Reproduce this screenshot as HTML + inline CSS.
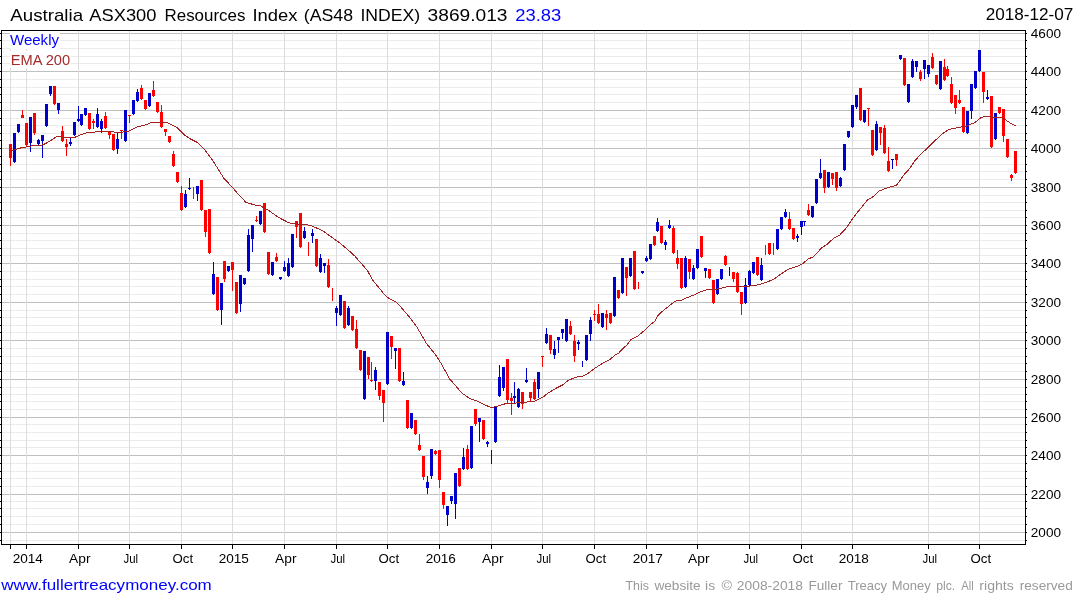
<!DOCTYPE html>
<html><head><meta charset="utf-8"><title>Chart</title>
<style>html,body{margin:0;padding:0;background:#fff;width:1075px;height:600px;overflow:hidden}</style>
</head><body>
<svg width="1075" height="600" viewBox="0 0 1075 600" style="display:block;position:absolute;left:0;top:0;will-change:transform">
<rect x="0" y="0" width="1075" height="600" fill="#fff"/>
<g shape-rendering="crispEdges">
<rect x="2" y="540" width="1023" height="1" fill="#ebebeb"/>
<rect x="2" y="532" width="1023" height="1" fill="#c0c0c0"/>
<rect x="2" y="524" width="1023" height="1" fill="#ebebeb"/>
<rect x="2" y="516" width="1023" height="1" fill="#ebebeb"/>
<rect x="2" y="508" width="1023" height="1" fill="#ebebeb"/>
<rect x="2" y="501" width="1023" height="1" fill="#ebebeb"/>
<rect x="2" y="494" width="1023" height="1" fill="#c0c0c0"/>
<rect x="2" y="486" width="1023" height="1" fill="#ebebeb"/>
<rect x="2" y="478" width="1023" height="1" fill="#ebebeb"/>
<rect x="2" y="471" width="1023" height="1" fill="#ebebeb"/>
<rect x="2" y="463" width="1023" height="1" fill="#ebebeb"/>
<rect x="2" y="455" width="1023" height="1" fill="#c0c0c0"/>
<rect x="2" y="447" width="1023" height="1" fill="#ebebeb"/>
<rect x="2" y="440" width="1023" height="1" fill="#ebebeb"/>
<rect x="2" y="432" width="1023" height="1" fill="#ebebeb"/>
<rect x="2" y="424" width="1023" height="1" fill="#ebebeb"/>
<rect x="2" y="417" width="1023" height="1" fill="#c0c0c0"/>
<rect x="2" y="409" width="1023" height="1" fill="#ebebeb"/>
<rect x="2" y="401" width="1023" height="1" fill="#ebebeb"/>
<rect x="2" y="394" width="1023" height="1" fill="#ebebeb"/>
<rect x="2" y="387" width="1023" height="1" fill="#ebebeb"/>
<rect x="2" y="379" width="1023" height="1" fill="#c0c0c0"/>
<rect x="2" y="371" width="1023" height="1" fill="#ebebeb"/>
<rect x="2" y="363" width="1023" height="1" fill="#ebebeb"/>
<rect x="2" y="356" width="1023" height="1" fill="#ebebeb"/>
<rect x="2" y="348" width="1023" height="1" fill="#ebebeb"/>
<rect x="2" y="340" width="1023" height="1" fill="#c0c0c0"/>
<rect x="2" y="332" width="1023" height="1" fill="#ebebeb"/>
<rect x="2" y="325" width="1023" height="1" fill="#ebebeb"/>
<rect x="2" y="317" width="1023" height="1" fill="#ebebeb"/>
<rect x="2" y="310" width="1023" height="1" fill="#ebebeb"/>
<rect x="2" y="302" width="1023" height="1" fill="#c0c0c0"/>
<rect x="2" y="294" width="1023" height="1" fill="#ebebeb"/>
<rect x="2" y="286" width="1023" height="1" fill="#ebebeb"/>
<rect x="2" y="279" width="1023" height="1" fill="#ebebeb"/>
<rect x="2" y="271" width="1023" height="1" fill="#ebebeb"/>
<rect x="2" y="263" width="1023" height="1" fill="#c0c0c0"/>
<rect x="2" y="255" width="1023" height="1" fill="#ebebeb"/>
<rect x="2" y="248" width="1023" height="1" fill="#ebebeb"/>
<rect x="2" y="240" width="1023" height="1" fill="#ebebeb"/>
<rect x="2" y="233" width="1023" height="1" fill="#ebebeb"/>
<rect x="2" y="225" width="1023" height="1" fill="#c0c0c0"/>
<rect x="2" y="217" width="1023" height="1" fill="#ebebeb"/>
<rect x="2" y="210" width="1023" height="1" fill="#ebebeb"/>
<rect x="2" y="202" width="1023" height="1" fill="#ebebeb"/>
<rect x="2" y="195" width="1023" height="1" fill="#ebebeb"/>
<rect x="2" y="187" width="1023" height="1" fill="#c0c0c0"/>
<rect x="2" y="179" width="1023" height="1" fill="#ebebeb"/>
<rect x="2" y="171" width="1023" height="1" fill="#ebebeb"/>
<rect x="2" y="164" width="1023" height="1" fill="#ebebeb"/>
<rect x="2" y="156" width="1023" height="1" fill="#ebebeb"/>
<rect x="2" y="148" width="1023" height="1" fill="#c0c0c0"/>
<rect x="2" y="140" width="1023" height="1" fill="#ebebeb"/>
<rect x="2" y="133" width="1023" height="1" fill="#ebebeb"/>
<rect x="2" y="125" width="1023" height="1" fill="#ebebeb"/>
<rect x="2" y="118" width="1023" height="1" fill="#ebebeb"/>
<rect x="2" y="110" width="1023" height="1" fill="#c0c0c0"/>
<rect x="2" y="102" width="1023" height="1" fill="#ebebeb"/>
<rect x="2" y="94" width="1023" height="1" fill="#ebebeb"/>
<rect x="2" y="87" width="1023" height="1" fill="#ebebeb"/>
<rect x="2" y="79" width="1023" height="1" fill="#ebebeb"/>
<rect x="2" y="71" width="1023" height="1" fill="#c0c0c0"/>
<rect x="2" y="63" width="1023" height="1" fill="#ebebeb"/>
<rect x="2" y="56" width="1023" height="1" fill="#ebebeb"/>
<rect x="2" y="48" width="1023" height="1" fill="#ebebeb"/>
<rect x="2" y="40" width="1023" height="1" fill="#ebebeb"/>
<rect x="2" y="33" width="1023" height="1" fill="#c0c0c0"/>
<rect x="10" y="31" width="1" height="513" fill="#dcdcdc"/>
<rect x="26" y="31" width="1" height="513" fill="#dcdcdc"/>
<rect x="78" y="31" width="1" height="513" fill="#dcdcdc"/>
<rect x="129" y="31" width="1" height="513" fill="#dcdcdc"/>
<rect x="181" y="31" width="1" height="513" fill="#dcdcdc"/>
<rect x="232" y="31" width="1" height="513" fill="#dcdcdc"/>
<rect x="284" y="31" width="1" height="513" fill="#dcdcdc"/>
<rect x="336" y="31" width="1" height="513" fill="#dcdcdc"/>
<rect x="387" y="31" width="1" height="513" fill="#dcdcdc"/>
<rect x="439" y="31" width="1" height="513" fill="#dcdcdc"/>
<rect x="491" y="31" width="1" height="513" fill="#dcdcdc"/>
<rect x="542" y="31" width="1" height="513" fill="#dcdcdc"/>
<rect x="594" y="31" width="1" height="513" fill="#dcdcdc"/>
<rect x="646" y="31" width="1" height="513" fill="#dcdcdc"/>
<rect x="697" y="31" width="1" height="513" fill="#dcdcdc"/>
<rect x="749" y="31" width="1" height="513" fill="#dcdcdc"/>
<rect x="801" y="31" width="1" height="513" fill="#dcdcdc"/>
<rect x="852" y="31" width="1" height="513" fill="#dcdcdc"/>
<rect x="928" y="31" width="1" height="513" fill="#dcdcdc"/>
<rect x="979" y="31" width="1" height="513" fill="#dcdcdc"/>
</g>
<rect x="10" y="31" width="50" height="18" fill="#fff"/>
<rect x="10" y="51" width="61" height="17" fill="#fff"/>
<g shape-rendering="crispEdges">
<rect x="10" y="144" width="1" height="22" fill="#ff0000"/>
<rect x="9" y="144" width="3" height="14" fill="#ff0000"/>
<rect x="14" y="133" width="1" height="30" fill="#0000cc"/>
<rect x="13" y="133" width="3" height="29" fill="#0000cc"/>
<rect x="18" y="124" width="1" height="9" fill="#0000cc"/>
<rect x="17" y="124" width="3" height="8" fill="#0000cc"/>
<rect x="22" y="110" width="1" height="8" fill="#ff0000"/>
<rect x="21" y="115" width="3" height="3" fill="#ff0000"/>
<rect x="26" y="123" width="1" height="23" fill="#ff0000"/>
<rect x="25" y="123" width="3" height="22" fill="#ff0000"/>
<rect x="30" y="117" width="1" height="35" fill="#0000cc"/>
<rect x="29" y="117" width="3" height="26" fill="#0000cc"/>
<rect x="34" y="113" width="1" height="22" fill="#ff0000"/>
<rect x="33" y="113" width="3" height="20" fill="#ff0000"/>
<rect x="38" y="139" width="1" height="6" fill="#0000cc"/>
<rect x="37" y="140" width="3" height="4" fill="#0000cc"/>
<rect x="42" y="135" width="1" height="23" fill="#0000cc"/>
<rect x="41" y="135" width="3" height="6" fill="#0000cc"/>
<rect x="46" y="104" width="1" height="23" fill="#0000cc"/>
<rect x="45" y="104" width="3" height="22" fill="#0000cc"/>
<rect x="50" y="86" width="1" height="10" fill="#0000cc"/>
<rect x="49" y="86" width="3" height="8" fill="#0000cc"/>
<rect x="54" y="86" width="1" height="19" fill="#ff0000"/>
<rect x="53" y="86" width="3" height="18" fill="#ff0000"/>
<rect x="58" y="103" width="1" height="11" fill="#0000cc"/>
<rect x="57" y="103" width="3" height="7" fill="#0000cc"/>
<rect x="62" y="126" width="1" height="16" fill="#ff0000"/>
<rect x="61" y="131" width="3" height="10" fill="#ff0000"/>
<rect x="66" y="139" width="1" height="17" fill="#ff0000"/>
<rect x="65" y="144" width="3" height="3" fill="#ff0000"/>
<rect x="70" y="138" width="1" height="8" fill="#0000cc"/>
<rect x="69" y="142" width="3" height="2" fill="#0000cc"/>
<rect x="74" y="122" width="1" height="14" fill="#0000cc"/>
<rect x="73" y="122" width="3" height="13" fill="#0000cc"/>
<rect x="78" y="106" width="1" height="16" fill="#0000cc"/>
<rect x="77" y="119" width="3" height="2" fill="#0000cc"/>
<rect x="81" y="114" width="1" height="12" fill="#0000cc"/>
<rect x="80" y="114" width="3" height="11" fill="#0000cc"/>
<rect x="85" y="108" width="1" height="8" fill="#0000cc"/>
<rect x="84" y="108" width="3" height="7" fill="#0000cc"/>
<rect x="89" y="113" width="1" height="17" fill="#ff0000"/>
<rect x="88" y="113" width="3" height="16" fill="#ff0000"/>
<rect x="93" y="119" width="1" height="10" fill="#ff0000"/>
<rect x="92" y="121" width="3" height="2" fill="#ff0000"/>
<rect x="97" y="108" width="1" height="20" fill="#0000cc"/>
<rect x="96" y="114" width="3" height="13" fill="#0000cc"/>
<rect x="101" y="119" width="1" height="14" fill="#0000cc"/>
<rect x="100" y="121" width="3" height="8" fill="#0000cc"/>
<rect x="105" y="112" width="1" height="17" fill="#ff0000"/>
<rect x="104" y="116" width="3" height="12" fill="#ff0000"/>
<rect x="109" y="132" width="1" height="7" fill="#ff0000"/>
<rect x="108" y="132" width="3" height="3" fill="#ff0000"/>
<rect x="113" y="134" width="1" height="17" fill="#ff0000"/>
<rect x="112" y="134" width="3" height="16" fill="#ff0000"/>
<rect x="117" y="133" width="1" height="21" fill="#0000cc"/>
<rect x="116" y="139" width="3" height="10" fill="#0000cc"/>
<rect x="121" y="130" width="1" height="9" fill="#ff0000"/>
<rect x="120" y="130" width="3" height="1" fill="#ff0000"/>
<rect x="125" y="110" width="1" height="32" fill="#0000cc"/>
<rect x="124" y="110" width="3" height="31" fill="#0000cc"/>
<rect x="129" y="115" width="1" height="8" fill="#ff0000"/>
<rect x="128" y="115" width="3" height="1" fill="#ff0000"/>
<rect x="133" y="100" width="1" height="15" fill="#0000cc"/>
<rect x="132" y="100" width="3" height="14" fill="#0000cc"/>
<rect x="137" y="89" width="1" height="13" fill="#0000cc"/>
<rect x="136" y="92" width="3" height="9" fill="#0000cc"/>
<rect x="141" y="85" width="1" height="15" fill="#ff0000"/>
<rect x="140" y="88" width="3" height="11" fill="#ff0000"/>
<rect x="145" y="100" width="1" height="10" fill="#ff0000"/>
<rect x="144" y="100" width="3" height="9" fill="#ff0000"/>
<rect x="149" y="93" width="1" height="14" fill="#0000cc"/>
<rect x="148" y="93" width="3" height="13" fill="#0000cc"/>
<rect x="153" y="81" width="1" height="16" fill="#ff0000"/>
<rect x="152" y="90" width="3" height="6" fill="#ff0000"/>
<rect x="157" y="102" width="1" height="11" fill="#ff0000"/>
<rect x="156" y="102" width="3" height="10" fill="#ff0000"/>
<rect x="161" y="105" width="1" height="23" fill="#ff0000"/>
<rect x="160" y="112" width="3" height="15" fill="#ff0000"/>
<rect x="165" y="129" width="1" height="7" fill="#ff0000"/>
<rect x="164" y="129" width="3" height="3" fill="#ff0000"/>
<rect x="169" y="136" width="1" height="7" fill="#ff0000"/>
<rect x="168" y="136" width="3" height="6" fill="#ff0000"/>
<rect x="173" y="151" width="1" height="16" fill="#ff0000"/>
<rect x="172" y="154" width="3" height="12" fill="#ff0000"/>
<rect x="177" y="172" width="1" height="11" fill="#ff0000"/>
<rect x="176" y="172" width="3" height="10" fill="#ff0000"/>
<rect x="181" y="186" width="1" height="25" fill="#ff0000"/>
<rect x="180" y="193" width="3" height="17" fill="#ff0000"/>
<rect x="185" y="190" width="1" height="18" fill="#0000cc"/>
<rect x="184" y="194" width="3" height="13" fill="#0000cc"/>
<rect x="189" y="178" width="1" height="12" fill="#0000cc"/>
<rect x="188" y="188" width="3" height="1" fill="#0000cc"/>
<rect x="193" y="187" width="1" height="12" fill="#ff0000"/>
<rect x="197" y="186" width="1" height="15" fill="#0000cc"/>
<rect x="196" y="186" width="3" height="8" fill="#0000cc"/>
<rect x="201" y="180" width="1" height="31" fill="#ff0000"/>
<rect x="200" y="180" width="3" height="30" fill="#ff0000"/>
<rect x="205" y="210" width="1" height="27" fill="#ff0000"/>
<rect x="204" y="210" width="3" height="22" fill="#ff0000"/>
<rect x="209" y="209" width="1" height="45" fill="#ff0000"/>
<rect x="208" y="209" width="3" height="44" fill="#ff0000"/>
<rect x="213" y="262" width="1" height="33" fill="#0000cc"/>
<rect x="212" y="274" width="3" height="20" fill="#0000cc"/>
<rect x="217" y="277" width="1" height="34" fill="#ff0000"/>
<rect x="216" y="277" width="3" height="33" fill="#ff0000"/>
<rect x="221" y="283" width="1" height="42" fill="#0000cc"/>
<rect x="220" y="283" width="3" height="27" fill="#0000cc"/>
<rect x="224" y="261" width="1" height="21" fill="#ff0000"/>
<rect x="223" y="261" width="3" height="18" fill="#ff0000"/>
<rect x="228" y="266" width="1" height="6" fill="#0000cc"/>
<rect x="227" y="266" width="3" height="5" fill="#0000cc"/>
<rect x="232" y="262" width="1" height="29" fill="#ff0000"/>
<rect x="231" y="262" width="3" height="8" fill="#ff0000"/>
<rect x="236" y="282" width="1" height="32" fill="#ff0000"/>
<rect x="235" y="282" width="3" height="31" fill="#ff0000"/>
<rect x="240" y="275" width="1" height="37" fill="#0000cc"/>
<rect x="239" y="275" width="3" height="29" fill="#0000cc"/>
<rect x="244" y="278" width="1" height="7" fill="#0000cc"/>
<rect x="243" y="278" width="3" height="6" fill="#0000cc"/>
<rect x="248" y="229" width="1" height="43" fill="#0000cc"/>
<rect x="247" y="235" width="3" height="36" fill="#0000cc"/>
<rect x="252" y="225" width="1" height="27" fill="#0000cc"/>
<rect x="251" y="225" width="3" height="14" fill="#0000cc"/>
<rect x="256" y="216" width="1" height="6" fill="#ff0000"/>
<rect x="255" y="220" width="3" height="1" fill="#ff0000"/>
<rect x="260" y="211" width="1" height="14" fill="#0000cc"/>
<rect x="259" y="211" width="3" height="13" fill="#0000cc"/>
<rect x="264" y="203" width="1" height="30" fill="#ff0000"/>
<rect x="263" y="203" width="3" height="29" fill="#ff0000"/>
<rect x="268" y="252" width="1" height="23" fill="#ff0000"/>
<rect x="267" y="252" width="3" height="22" fill="#ff0000"/>
<rect x="272" y="262" width="1" height="14" fill="#0000cc"/>
<rect x="271" y="262" width="3" height="13" fill="#0000cc"/>
<rect x="276" y="253" width="1" height="9" fill="#ff0000"/>
<rect x="275" y="257" width="3" height="4" fill="#ff0000"/>
<rect x="280" y="277" width="1" height="3" fill="#0000cc"/>
<rect x="279" y="277" width="3" height="2" fill="#0000cc"/>
<rect x="284" y="261" width="1" height="11" fill="#0000cc"/>
<rect x="283" y="267" width="3" height="4" fill="#0000cc"/>
<rect x="288" y="258" width="1" height="19" fill="#0000cc"/>
<rect x="287" y="263" width="3" height="13" fill="#0000cc"/>
<rect x="292" y="234" width="1" height="34" fill="#0000cc"/>
<rect x="291" y="234" width="3" height="33" fill="#0000cc"/>
<rect x="296" y="221" width="1" height="17" fill="#ff0000"/>
<rect x="295" y="221" width="3" height="6" fill="#ff0000"/>
<rect x="300" y="213" width="1" height="35" fill="#ff0000"/>
<rect x="299" y="213" width="3" height="34" fill="#ff0000"/>
<rect x="304" y="227" width="1" height="12" fill="#0000cc"/>
<rect x="303" y="231" width="3" height="7" fill="#0000cc"/>
<rect x="308" y="242" width="1" height="14" fill="#ff0000"/>
<rect x="312" y="229" width="1" height="14" fill="#0000cc"/>
<rect x="311" y="233" width="3" height="3" fill="#0000cc"/>
<rect x="316" y="239" width="1" height="28" fill="#ff0000"/>
<rect x="315" y="239" width="3" height="27" fill="#ff0000"/>
<rect x="320" y="254" width="1" height="19" fill="#0000cc"/>
<rect x="319" y="258" width="3" height="14" fill="#0000cc"/>
<rect x="324" y="263" width="1" height="10" fill="#0000cc"/>
<rect x="323" y="263" width="3" height="3" fill="#0000cc"/>
<rect x="328" y="259" width="1" height="29" fill="#ff0000"/>
<rect x="327" y="265" width="3" height="22" fill="#ff0000"/>
<rect x="332" y="288" width="1" height="13" fill="#ff0000"/>
<rect x="336" y="306" width="1" height="20" fill="#0000cc"/>
<rect x="335" y="308" width="3" height="5" fill="#0000cc"/>
<rect x="340" y="295" width="1" height="21" fill="#0000cc"/>
<rect x="339" y="295" width="3" height="20" fill="#0000cc"/>
<rect x="344" y="301" width="1" height="28" fill="#ff0000"/>
<rect x="343" y="301" width="3" height="27" fill="#ff0000"/>
<rect x="348" y="306" width="1" height="20" fill="#0000cc"/>
<rect x="347" y="308" width="3" height="17" fill="#0000cc"/>
<rect x="352" y="316" width="1" height="15" fill="#ff0000"/>
<rect x="351" y="316" width="3" height="14" fill="#ff0000"/>
<rect x="356" y="320" width="1" height="29" fill="#ff0000"/>
<rect x="355" y="329" width="3" height="19" fill="#ff0000"/>
<rect x="360" y="350" width="1" height="21" fill="#ff0000"/>
<rect x="359" y="350" width="3" height="20" fill="#ff0000"/>
<rect x="364" y="351" width="1" height="49" fill="#0000cc"/>
<rect x="363" y="351" width="3" height="48" fill="#0000cc"/>
<rect x="368" y="357" width="1" height="22" fill="#ff0000"/>
<rect x="367" y="357" width="3" height="18" fill="#ff0000"/>
<rect x="371" y="362" width="1" height="20" fill="#ff0000"/>
<rect x="370" y="380" width="3" height="1" fill="#ff0000"/>
<rect x="375" y="367" width="1" height="23" fill="#0000cc"/>
<rect x="374" y="370" width="3" height="11" fill="#0000cc"/>
<rect x="379" y="382" width="1" height="18" fill="#ff0000"/>
<rect x="378" y="382" width="3" height="14" fill="#ff0000"/>
<rect x="383" y="390" width="1" height="32" fill="#ff0000"/>
<rect x="382" y="390" width="3" height="13" fill="#ff0000"/>
<rect x="387" y="332" width="1" height="53" fill="#0000cc"/>
<rect x="386" y="332" width="3" height="52" fill="#0000cc"/>
<rect x="391" y="336" width="1" height="23" fill="#ff0000"/>
<rect x="390" y="336" width="3" height="11" fill="#ff0000"/>
<rect x="395" y="348" width="1" height="21" fill="#0000cc"/>
<rect x="394" y="348" width="3" height="3" fill="#0000cc"/>
<rect x="399" y="348" width="1" height="34" fill="#ff0000"/>
<rect x="398" y="348" width="3" height="33" fill="#ff0000"/>
<rect x="403" y="372" width="1" height="14" fill="#0000cc"/>
<rect x="402" y="381" width="3" height="4" fill="#0000cc"/>
<rect x="407" y="400" width="1" height="29" fill="#ff0000"/>
<rect x="406" y="400" width="3" height="28" fill="#ff0000"/>
<rect x="411" y="413" width="1" height="16" fill="#0000cc"/>
<rect x="410" y="413" width="3" height="15" fill="#0000cc"/>
<rect x="415" y="420" width="1" height="15" fill="#ff0000"/>
<rect x="414" y="420" width="3" height="14" fill="#ff0000"/>
<rect x="419" y="434" width="1" height="17" fill="#ff0000"/>
<rect x="418" y="445" width="3" height="5" fill="#ff0000"/>
<rect x="423" y="456" width="1" height="24" fill="#ff0000"/>
<rect x="422" y="456" width="3" height="21" fill="#ff0000"/>
<rect x="427" y="476" width="1" height="18" fill="#0000cc"/>
<rect x="426" y="482" width="3" height="6" fill="#0000cc"/>
<rect x="431" y="449" width="1" height="30" fill="#0000cc"/>
<rect x="430" y="449" width="3" height="27" fill="#0000cc"/>
<rect x="435" y="450" width="1" height="5" fill="#ff0000"/>
<rect x="434" y="451" width="3" height="3" fill="#ff0000"/>
<rect x="439" y="450" width="1" height="38" fill="#ff0000"/>
<rect x="438" y="450" width="3" height="30" fill="#ff0000"/>
<rect x="443" y="492" width="1" height="17" fill="#ff0000"/>
<rect x="442" y="492" width="3" height="13" fill="#ff0000"/>
<rect x="447" y="506" width="1" height="20" fill="#0000cc"/>
<rect x="446" y="506" width="3" height="9" fill="#0000cc"/>
<rect x="451" y="496" width="1" height="8" fill="#0000cc"/>
<rect x="450" y="496" width="3" height="5" fill="#0000cc"/>
<rect x="455" y="473" width="1" height="46" fill="#0000cc"/>
<rect x="454" y="473" width="3" height="31" fill="#0000cc"/>
<rect x="459" y="468" width="1" height="19" fill="#ff0000"/>
<rect x="458" y="468" width="3" height="18" fill="#ff0000"/>
<rect x="463" y="448" width="1" height="22" fill="#0000cc"/>
<rect x="462" y="457" width="3" height="12" fill="#0000cc"/>
<rect x="467" y="445" width="1" height="25" fill="#ff0000"/>
<rect x="466" y="449" width="3" height="20" fill="#ff0000"/>
<rect x="471" y="426" width="1" height="43" fill="#0000cc"/>
<rect x="470" y="426" width="3" height="42" fill="#0000cc"/>
<rect x="475" y="409" width="1" height="17" fill="#ff0000"/>
<rect x="474" y="409" width="3" height="15" fill="#ff0000"/>
<rect x="479" y="418" width="1" height="24" fill="#0000cc"/>
<rect x="478" y="418" width="3" height="4" fill="#0000cc"/>
<rect x="483" y="420" width="1" height="20" fill="#ff0000"/>
<rect x="482" y="420" width="3" height="19" fill="#ff0000"/>
<rect x="487" y="441" width="1" height="6" fill="#0000cc"/>
<rect x="486" y="442" width="3" height="2" fill="#0000cc"/>
<rect x="491" y="450" width="1" height="14" fill="#0000cc"/>
<rect x="495" y="406" width="1" height="37" fill="#0000cc"/>
<rect x="494" y="406" width="3" height="36" fill="#0000cc"/>
<rect x="499" y="365" width="1" height="32" fill="#0000cc"/>
<rect x="498" y="377" width="3" height="19" fill="#0000cc"/>
<rect x="503" y="367" width="1" height="24" fill="#0000cc"/>
<rect x="502" y="367" width="3" height="21" fill="#0000cc"/>
<rect x="507" y="359" width="1" height="44" fill="#ff0000"/>
<rect x="506" y="359" width="3" height="41" fill="#ff0000"/>
<rect x="511" y="393" width="1" height="22" fill="#ff0000"/>
<rect x="510" y="398" width="3" height="3" fill="#ff0000"/>
<rect x="514" y="382" width="1" height="21" fill="#0000cc"/>
<rect x="513" y="396" width="3" height="2" fill="#0000cc"/>
<rect x="518" y="388" width="1" height="20" fill="#0000cc"/>
<rect x="517" y="389" width="3" height="18" fill="#0000cc"/>
<rect x="522" y="392" width="1" height="17" fill="#ff0000"/>
<rect x="521" y="392" width="3" height="12" fill="#ff0000"/>
<rect x="526" y="368" width="1" height="15" fill="#0000cc"/>
<rect x="525" y="380" width="3" height="2" fill="#0000cc"/>
<rect x="530" y="392" width="1" height="9" fill="#ff0000"/>
<rect x="529" y="392" width="3" height="6" fill="#ff0000"/>
<rect x="534" y="379" width="1" height="21" fill="#ff0000"/>
<rect x="533" y="382" width="3" height="17" fill="#ff0000"/>
<rect x="538" y="372" width="1" height="26" fill="#0000cc"/>
<rect x="537" y="372" width="3" height="17" fill="#0000cc"/>
<rect x="542" y="356" width="1" height="11" fill="#ff0000"/>
<rect x="541" y="356" width="3" height="1" fill="#ff0000"/>
<rect x="546" y="328" width="1" height="16" fill="#0000cc"/>
<rect x="545" y="334" width="3" height="9" fill="#0000cc"/>
<rect x="550" y="335" width="1" height="19" fill="#ff0000"/>
<rect x="549" y="335" width="3" height="15" fill="#ff0000"/>
<rect x="554" y="341" width="1" height="18" fill="#0000cc"/>
<rect x="553" y="349" width="3" height="6" fill="#0000cc"/>
<rect x="558" y="337" width="1" height="16" fill="#0000cc"/>
<rect x="557" y="337" width="3" height="3" fill="#0000cc"/>
<rect x="562" y="329" width="1" height="10" fill="#0000cc"/>
<rect x="561" y="329" width="3" height="4" fill="#0000cc"/>
<rect x="566" y="319" width="1" height="23" fill="#0000cc"/>
<rect x="565" y="319" width="3" height="22" fill="#0000cc"/>
<rect x="570" y="321" width="1" height="14" fill="#ff0000"/>
<rect x="569" y="326" width="3" height="8" fill="#ff0000"/>
<rect x="574" y="335" width="1" height="27" fill="#ff0000"/>
<rect x="573" y="341" width="3" height="15" fill="#ff0000"/>
<rect x="578" y="340" width="1" height="10" fill="#0000cc"/>
<rect x="577" y="342" width="3" height="2" fill="#0000cc"/>
<rect x="582" y="361" width="1" height="6" fill="#0000cc"/>
<rect x="586" y="335" width="1" height="26" fill="#0000cc"/>
<rect x="585" y="335" width="3" height="25" fill="#0000cc"/>
<rect x="590" y="317" width="1" height="24" fill="#0000cc"/>
<rect x="589" y="320" width="3" height="14" fill="#0000cc"/>
<rect x="594" y="310" width="1" height="11" fill="#ff0000"/>
<rect x="593" y="314" width="3" height="1" fill="#ff0000"/>
<rect x="598" y="304" width="1" height="20" fill="#ff0000"/>
<rect x="597" y="314" width="3" height="9" fill="#ff0000"/>
<rect x="602" y="313" width="1" height="15" fill="#0000cc"/>
<rect x="601" y="313" width="3" height="14" fill="#0000cc"/>
<rect x="606" y="310" width="1" height="20" fill="#ff0000"/>
<rect x="605" y="314" width="3" height="4" fill="#ff0000"/>
<rect x="610" y="313" width="1" height="11" fill="#ff0000"/>
<rect x="609" y="313" width="3" height="10" fill="#ff0000"/>
<rect x="614" y="277" width="1" height="40" fill="#0000cc"/>
<rect x="613" y="277" width="3" height="39" fill="#0000cc"/>
<rect x="618" y="290" width="1" height="9" fill="#ff0000"/>
<rect x="617" y="290" width="3" height="8" fill="#ff0000"/>
<rect x="622" y="258" width="1" height="36" fill="#0000cc"/>
<rect x="621" y="258" width="3" height="35" fill="#0000cc"/>
<rect x="626" y="267" width="1" height="29" fill="#ff0000"/>
<rect x="625" y="267" width="3" height="11" fill="#ff0000"/>
<rect x="630" y="258" width="1" height="19" fill="#0000cc"/>
<rect x="629" y="258" width="3" height="18" fill="#0000cc"/>
<rect x="634" y="251" width="1" height="39" fill="#ff0000"/>
<rect x="633" y="251" width="3" height="38" fill="#ff0000"/>
<rect x="638" y="282" width="1" height="7" fill="#ff0000"/>
<rect x="642" y="271" width="1" height="3" fill="#0000cc"/>
<rect x="641" y="271" width="3" height="2" fill="#0000cc"/>
<rect x="646" y="256" width="1" height="6" fill="#0000cc"/>
<rect x="645" y="258" width="3" height="3" fill="#0000cc"/>
<rect x="650" y="244" width="1" height="16" fill="#0000cc"/>
<rect x="649" y="244" width="3" height="15" fill="#0000cc"/>
<rect x="654" y="236" width="1" height="10" fill="#ff0000"/>
<rect x="653" y="236" width="3" height="9" fill="#ff0000"/>
<rect x="657" y="218" width="1" height="14" fill="#0000cc"/>
<rect x="656" y="222" width="3" height="9" fill="#0000cc"/>
<rect x="661" y="226" width="1" height="18" fill="#ff0000"/>
<rect x="660" y="226" width="3" height="17" fill="#ff0000"/>
<rect x="665" y="240" width="1" height="10" fill="#0000cc"/>
<rect x="664" y="242" width="3" height="3" fill="#0000cc"/>
<rect x="669" y="220" width="1" height="9" fill="#0000cc"/>
<rect x="668" y="225" width="3" height="3" fill="#0000cc"/>
<rect x="673" y="226" width="1" height="28" fill="#ff0000"/>
<rect x="672" y="228" width="3" height="25" fill="#ff0000"/>
<rect x="677" y="250" width="1" height="19" fill="#ff0000"/>
<rect x="676" y="258" width="3" height="6" fill="#ff0000"/>
<rect x="681" y="258" width="1" height="31" fill="#ff0000"/>
<rect x="680" y="258" width="3" height="30" fill="#ff0000"/>
<rect x="685" y="256" width="1" height="32" fill="#0000cc"/>
<rect x="684" y="258" width="3" height="29" fill="#0000cc"/>
<rect x="689" y="259" width="1" height="20" fill="#ff0000"/>
<rect x="688" y="259" width="3" height="13" fill="#ff0000"/>
<rect x="693" y="265" width="1" height="15" fill="#0000cc"/>
<rect x="692" y="268" width="3" height="11" fill="#0000cc"/>
<rect x="697" y="249" width="1" height="20" fill="#0000cc"/>
<rect x="696" y="249" width="3" height="19" fill="#0000cc"/>
<rect x="701" y="236" width="1" height="22" fill="#ff0000"/>
<rect x="700" y="236" width="3" height="21" fill="#ff0000"/>
<rect x="705" y="268" width="1" height="10" fill="#0000cc"/>
<rect x="704" y="268" width="3" height="3" fill="#0000cc"/>
<rect x="709" y="269" width="1" height="10" fill="#ff0000"/>
<rect x="708" y="269" width="3" height="9" fill="#ff0000"/>
<rect x="713" y="280" width="1" height="24" fill="#ff0000"/>
<rect x="712" y="280" width="3" height="23" fill="#ff0000"/>
<rect x="717" y="279" width="1" height="16" fill="#0000cc"/>
<rect x="716" y="279" width="3" height="15" fill="#0000cc"/>
<rect x="721" y="269" width="1" height="11" fill="#0000cc"/>
<rect x="720" y="269" width="3" height="10" fill="#0000cc"/>
<rect x="725" y="255" width="1" height="11" fill="#ff0000"/>
<rect x="724" y="256" width="3" height="9" fill="#ff0000"/>
<rect x="729" y="267" width="1" height="9" fill="#0000cc"/>
<rect x="733" y="272" width="1" height="10" fill="#ff0000"/>
<rect x="732" y="272" width="3" height="7" fill="#ff0000"/>
<rect x="737" y="272" width="1" height="21" fill="#ff0000"/>
<rect x="736" y="273" width="3" height="19" fill="#ff0000"/>
<rect x="741" y="292" width="1" height="23" fill="#ff0000"/>
<rect x="740" y="292" width="3" height="12" fill="#ff0000"/>
<rect x="745" y="278" width="1" height="26" fill="#0000cc"/>
<rect x="744" y="285" width="3" height="18" fill="#0000cc"/>
<rect x="749" y="270" width="1" height="16" fill="#0000cc"/>
<rect x="748" y="271" width="3" height="14" fill="#0000cc"/>
<rect x="753" y="262" width="1" height="12" fill="#0000cc"/>
<rect x="752" y="262" width="3" height="11" fill="#0000cc"/>
<rect x="757" y="257" width="1" height="19" fill="#ff0000"/>
<rect x="756" y="257" width="3" height="18" fill="#ff0000"/>
<rect x="761" y="258" width="1" height="23" fill="#0000cc"/>
<rect x="760" y="265" width="3" height="15" fill="#0000cc"/>
<rect x="765" y="245" width="1" height="10" fill="#ff0000"/>
<rect x="769" y="243" width="1" height="12" fill="#ff0000"/>
<rect x="768" y="243" width="3" height="11" fill="#ff0000"/>
<rect x="773" y="243" width="1" height="12" fill="#ff0000"/>
<rect x="777" y="229" width="1" height="21" fill="#0000cc"/>
<rect x="776" y="229" width="3" height="20" fill="#0000cc"/>
<rect x="781" y="217" width="1" height="13" fill="#0000cc"/>
<rect x="780" y="217" width="3" height="12" fill="#0000cc"/>
<rect x="785" y="209" width="1" height="9" fill="#0000cc"/>
<rect x="784" y="212" width="3" height="5" fill="#0000cc"/>
<rect x="789" y="212" width="1" height="18" fill="#ff0000"/>
<rect x="788" y="219" width="3" height="10" fill="#ff0000"/>
<rect x="793" y="228" width="1" height="12" fill="#ff0000"/>
<rect x="792" y="228" width="3" height="11" fill="#ff0000"/>
<rect x="797" y="234" width="1" height="8" fill="#0000cc"/>
<rect x="796" y="236" width="3" height="2" fill="#0000cc"/>
<rect x="801" y="221" width="1" height="14" fill="#0000cc"/>
<rect x="800" y="221" width="3" height="6" fill="#0000cc"/>
<rect x="804" y="221" width="1" height="5" fill="#0000cc"/>
<rect x="803" y="221" width="3" height="1" fill="#0000cc"/>
<rect x="808" y="204" width="1" height="12" fill="#ff0000"/>
<rect x="807" y="210" width="3" height="5" fill="#ff0000"/>
<rect x="812" y="206" width="1" height="12" fill="#0000cc"/>
<rect x="811" y="206" width="3" height="11" fill="#0000cc"/>
<rect x="816" y="179" width="1" height="25" fill="#0000cc"/>
<rect x="815" y="179" width="3" height="24" fill="#0000cc"/>
<rect x="820" y="159" width="1" height="20" fill="#0000cc"/>
<rect x="819" y="173" width="3" height="5" fill="#0000cc"/>
<rect x="824" y="170" width="1" height="23" fill="#ff0000"/>
<rect x="823" y="170" width="3" height="18" fill="#ff0000"/>
<rect x="828" y="172" width="1" height="16" fill="#0000cc"/>
<rect x="827" y="172" width="3" height="15" fill="#0000cc"/>
<rect x="832" y="173" width="1" height="12" fill="#ff0000"/>
<rect x="831" y="173" width="3" height="6" fill="#ff0000"/>
<rect x="836" y="172" width="1" height="19" fill="#ff0000"/>
<rect x="835" y="172" width="3" height="16" fill="#ff0000"/>
<rect x="840" y="177" width="1" height="10" fill="#0000cc"/>
<rect x="839" y="178" width="3" height="8" fill="#0000cc"/>
<rect x="844" y="144" width="1" height="27" fill="#0000cc"/>
<rect x="843" y="144" width="3" height="26" fill="#0000cc"/>
<rect x="848" y="131" width="1" height="7" fill="#0000cc"/>
<rect x="847" y="131" width="3" height="6" fill="#0000cc"/>
<rect x="852" y="105" width="1" height="23" fill="#0000cc"/>
<rect x="851" y="105" width="3" height="22" fill="#0000cc"/>
<rect x="856" y="95" width="1" height="14" fill="#0000cc"/>
<rect x="855" y="95" width="3" height="12" fill="#0000cc"/>
<rect x="860" y="88" width="1" height="33" fill="#ff0000"/>
<rect x="859" y="88" width="3" height="32" fill="#ff0000"/>
<rect x="864" y="110" width="1" height="13" fill="#0000cc"/>
<rect x="863" y="110" width="3" height="12" fill="#0000cc"/>
<rect x="868" y="108" width="1" height="18" fill="#ff0000"/>
<rect x="867" y="108" width="3" height="1" fill="#ff0000"/>
<rect x="872" y="130" width="1" height="26" fill="#ff0000"/>
<rect x="871" y="130" width="3" height="25" fill="#ff0000"/>
<rect x="876" y="121" width="1" height="30" fill="#0000cc"/>
<rect x="875" y="124" width="3" height="26" fill="#0000cc"/>
<rect x="880" y="127" width="1" height="18" fill="#ff0000"/>
<rect x="879" y="127" width="3" height="6" fill="#ff0000"/>
<rect x="884" y="125" width="1" height="29" fill="#ff0000"/>
<rect x="883" y="128" width="3" height="25" fill="#ff0000"/>
<rect x="888" y="147" width="1" height="25" fill="#ff0000"/>
<rect x="887" y="161" width="3" height="10" fill="#ff0000"/>
<rect x="892" y="159" width="1" height="10" fill="#0000cc"/>
<rect x="891" y="159" width="3" height="1" fill="#0000cc"/>
<rect x="896" y="154" width="1" height="12" fill="#ff0000"/>
<rect x="895" y="154" width="3" height="6" fill="#ff0000"/>
<rect x="900" y="55" width="1" height="5" fill="#0000cc"/>
<rect x="899" y="55" width="3" height="4" fill="#0000cc"/>
<rect x="904" y="58" width="1" height="28" fill="#ff0000"/>
<rect x="903" y="58" width="3" height="27" fill="#ff0000"/>
<rect x="908" y="84" width="1" height="19" fill="#0000cc"/>
<rect x="907" y="84" width="3" height="18" fill="#0000cc"/>
<rect x="912" y="59" width="1" height="19" fill="#0000cc"/>
<rect x="911" y="61" width="3" height="16" fill="#0000cc"/>
<rect x="916" y="61" width="1" height="11" fill="#0000cc"/>
<rect x="915" y="61" width="3" height="6" fill="#0000cc"/>
<rect x="920" y="70" width="1" height="11" fill="#ff0000"/>
<rect x="919" y="72" width="3" height="7" fill="#ff0000"/>
<rect x="924" y="60" width="1" height="19" fill="#0000cc"/>
<rect x="923" y="60" width="3" height="9" fill="#0000cc"/>
<rect x="928" y="65" width="1" height="12" fill="#0000cc"/>
<rect x="927" y="65" width="3" height="9" fill="#0000cc"/>
<rect x="932" y="53" width="1" height="16" fill="#ff0000"/>
<rect x="931" y="57" width="3" height="11" fill="#ff0000"/>
<rect x="936" y="75" width="1" height="10" fill="#ff0000"/>
<rect x="935" y="75" width="3" height="9" fill="#ff0000"/>
<rect x="940" y="61" width="1" height="29" fill="#0000cc"/>
<rect x="939" y="61" width="3" height="28" fill="#0000cc"/>
<rect x="944" y="59" width="1" height="22" fill="#ff0000"/>
<rect x="943" y="67" width="3" height="13" fill="#ff0000"/>
<rect x="947" y="66" width="1" height="11" fill="#ff0000"/>
<rect x="946" y="69" width="3" height="7" fill="#ff0000"/>
<rect x="951" y="77" width="1" height="27" fill="#ff0000"/>
<rect x="950" y="84" width="3" height="19" fill="#ff0000"/>
<rect x="955" y="95" width="1" height="19" fill="#ff0000"/>
<rect x="954" y="95" width="3" height="13" fill="#ff0000"/>
<rect x="959" y="90" width="1" height="14" fill="#ff0000"/>
<rect x="958" y="100" width="3" height="3" fill="#ff0000"/>
<rect x="963" y="107" width="1" height="26" fill="#ff0000"/>
<rect x="962" y="107" width="3" height="25" fill="#ff0000"/>
<rect x="967" y="111" width="1" height="23" fill="#0000cc"/>
<rect x="966" y="111" width="3" height="22" fill="#0000cc"/>
<rect x="971" y="84" width="1" height="35" fill="#0000cc"/>
<rect x="970" y="84" width="3" height="27" fill="#0000cc"/>
<rect x="975" y="71" width="1" height="18" fill="#0000cc"/>
<rect x="974" y="71" width="3" height="17" fill="#0000cc"/>
<rect x="979" y="50" width="1" height="22" fill="#0000cc"/>
<rect x="978" y="50" width="3" height="21" fill="#0000cc"/>
<rect x="983" y="72" width="1" height="31" fill="#ff0000"/>
<rect x="982" y="72" width="3" height="20" fill="#ff0000"/>
<rect x="987" y="90" width="1" height="10" fill="#0000cc"/>
<rect x="986" y="97" width="3" height="2" fill="#0000cc"/>
<rect x="991" y="96" width="1" height="52" fill="#ff0000"/>
<rect x="990" y="96" width="3" height="51" fill="#ff0000"/>
<rect x="995" y="113" width="1" height="27" fill="#0000cc"/>
<rect x="994" y="113" width="3" height="26" fill="#0000cc"/>
<rect x="999" y="107" width="1" height="7" fill="#ff0000"/>
<rect x="998" y="107" width="3" height="6" fill="#ff0000"/>
<rect x="1003" y="109" width="1" height="33" fill="#ff0000"/>
<rect x="1002" y="109" width="3" height="27" fill="#ff0000"/>
<rect x="1007" y="139" width="1" height="19" fill="#ff0000"/>
<rect x="1006" y="139" width="3" height="18" fill="#ff0000"/>
<rect x="1011" y="174" width="1" height="7" fill="#ff0000"/>
<rect x="1010" y="175" width="3" height="3" fill="#ff0000"/>
<rect x="1015" y="151" width="1" height="23" fill="#ff0000"/>
<rect x="1014" y="151" width="3" height="22" fill="#ff0000"/>
</g>
<polyline points="10.6,151.2 21.2,147.8 31.2,146.0 42.5,145.0 47.5,142.5 57.5,136.2 62.5,137.2 75.0,137.2 85.0,133.1 100.0,131.5 110.0,131.5 118.8,132.5 128.8,131.2 137.5,126.9 145.0,125.0 152.5,122.2 166.2,122.2 171.2,124.4 177.5,128.0 183.8,134.4 190.0,138.8 197.5,142.5 205.0,150.0 212.5,160.0 217.5,168.1 223.8,178.1 232.5,187.5 238.8,195.0 246.2,202.5 255.0,205.0 260.0,205.6 268.8,210.6 278.8,217.5 288.8,222.8 297.5,224.0 310.0,225.2 322.5,230.6 331.2,236.9 340.0,243.1 347.5,249.4 355.0,256.2 360.0,262.0 367.5,270.6 372.5,280.0 378.8,287.5 385.0,295.3 390.3,299.3 395.7,302.0 401.0,307.3 406.3,313.3 411.7,320.0 417.0,327.3 421.0,334.0 426.3,343.3 431.7,350.0 437.0,356.7 441.0,363.3 444.3,369.3 450.0,379.4 455.0,385.0 461.2,392.5 470.0,398.8 477.5,401.2 485.0,405.0 491.2,407.5 496.2,406.5 506.2,403.5 515.0,403.1 524.0,402.2 533.8,401.5 542.5,397.5 547.5,393.5 557.5,387.5 562.5,385.0 568.8,380.0 577.5,376.9 582.5,376.2 587.5,373.8 595.0,368.1 603.8,362.5 610.0,359.4 615.0,355.0 618.8,353.1 622.5,348.8 626.9,345.0 631.2,339.4 637.5,336.2 645.0,330.0 650.0,324.8 655.0,321.2 657.5,316.2 662.5,311.2 668.8,306.2 675.0,301.2 681.2,300.2 687.5,297.5 693.8,295.0 700.0,291.9 706.2,289.8 712.5,289.8 720.0,288.5 727.5,286.6 735.0,286.2 745.0,286.9 752.5,285.6 758.8,284.8 767.5,281.9 775.0,278.5 781.0,274.0 787.0,270.0 793.0,267.5 798.0,266.0 803.0,263.5 808.0,259.0 813.0,257.0 817.0,253.0 822.0,247.5 827.0,244.5 833.0,238.8 840.0,234.8 846.2,228.1 852.5,218.8 858.8,210.6 867.5,200.0 872.5,197.2 878.8,191.2 883.8,189.1 890.0,186.9 896.2,185.6 900.0,180.6 903.8,175.0 910.0,168.1 915.0,160.6 921.2,153.8 928.8,146.9 935.0,140.6 942.5,133.8 948.1,129.8 955.0,128.1 966.2,126.2 975.0,122.5 981.2,117.5 986.9,116.0 992.5,117.2 1000.0,117.2 1005.0,119.4 1011.2,123.8 1015.6,125.6" fill="none" stroke="#a52020" stroke-width="1" shape-rendering="crispEdges"/>
<g shape-rendering="crispEdges" fill="#000">
<rect x="1" y="30" width="1025" height="1"/>
<rect x="1" y="544" width="1025" height="1"/>
<rect x="1" y="30" width="1" height="515"/>
<rect x="1025" y="30" width="1" height="515"/>
<rect x="0" y="540" width="1" height="1"/>
<rect x="1026" y="540" width="1" height="1"/>
<rect x="0" y="532" width="1" height="1"/>
<rect x="1026" y="532" width="1" height="1"/>
<rect x="0" y="524" width="1" height="1"/>
<rect x="1026" y="524" width="1" height="1"/>
<rect x="0" y="516" width="1" height="1"/>
<rect x="1026" y="516" width="1" height="1"/>
<rect x="0" y="508" width="1" height="1"/>
<rect x="1026" y="508" width="1" height="1"/>
<rect x="0" y="501" width="1" height="1"/>
<rect x="1026" y="501" width="1" height="1"/>
<rect x="0" y="494" width="1" height="1"/>
<rect x="1026" y="494" width="1" height="1"/>
<rect x="0" y="486" width="1" height="1"/>
<rect x="1026" y="486" width="1" height="1"/>
<rect x="0" y="478" width="1" height="1"/>
<rect x="1026" y="478" width="1" height="1"/>
<rect x="0" y="471" width="1" height="1"/>
<rect x="1026" y="471" width="1" height="1"/>
<rect x="0" y="463" width="1" height="1"/>
<rect x="1026" y="463" width="1" height="1"/>
<rect x="0" y="455" width="1" height="1"/>
<rect x="1026" y="455" width="1" height="1"/>
<rect x="0" y="447" width="1" height="1"/>
<rect x="1026" y="447" width="1" height="1"/>
<rect x="0" y="440" width="1" height="1"/>
<rect x="1026" y="440" width="1" height="1"/>
<rect x="0" y="432" width="1" height="1"/>
<rect x="1026" y="432" width="1" height="1"/>
<rect x="0" y="424" width="1" height="1"/>
<rect x="1026" y="424" width="1" height="1"/>
<rect x="0" y="417" width="1" height="1"/>
<rect x="1026" y="417" width="1" height="1"/>
<rect x="0" y="409" width="1" height="1"/>
<rect x="1026" y="409" width="1" height="1"/>
<rect x="0" y="401" width="1" height="1"/>
<rect x="1026" y="401" width="1" height="1"/>
<rect x="0" y="394" width="1" height="1"/>
<rect x="1026" y="394" width="1" height="1"/>
<rect x="0" y="387" width="1" height="1"/>
<rect x="1026" y="387" width="1" height="1"/>
<rect x="0" y="379" width="1" height="1"/>
<rect x="1026" y="379" width="1" height="1"/>
<rect x="0" y="371" width="1" height="1"/>
<rect x="1026" y="371" width="1" height="1"/>
<rect x="0" y="363" width="1" height="1"/>
<rect x="1026" y="363" width="1" height="1"/>
<rect x="0" y="356" width="1" height="1"/>
<rect x="1026" y="356" width="1" height="1"/>
<rect x="0" y="348" width="1" height="1"/>
<rect x="1026" y="348" width="1" height="1"/>
<rect x="0" y="340" width="1" height="1"/>
<rect x="1026" y="340" width="1" height="1"/>
<rect x="0" y="332" width="1" height="1"/>
<rect x="1026" y="332" width="1" height="1"/>
<rect x="0" y="325" width="1" height="1"/>
<rect x="1026" y="325" width="1" height="1"/>
<rect x="0" y="317" width="1" height="1"/>
<rect x="1026" y="317" width="1" height="1"/>
<rect x="0" y="310" width="1" height="1"/>
<rect x="1026" y="310" width="1" height="1"/>
<rect x="0" y="302" width="1" height="1"/>
<rect x="1026" y="302" width="1" height="1"/>
<rect x="0" y="294" width="1" height="1"/>
<rect x="1026" y="294" width="1" height="1"/>
<rect x="0" y="286" width="1" height="1"/>
<rect x="1026" y="286" width="1" height="1"/>
<rect x="0" y="279" width="1" height="1"/>
<rect x="1026" y="279" width="1" height="1"/>
<rect x="0" y="271" width="1" height="1"/>
<rect x="1026" y="271" width="1" height="1"/>
<rect x="0" y="263" width="1" height="1"/>
<rect x="1026" y="263" width="1" height="1"/>
<rect x="0" y="255" width="1" height="1"/>
<rect x="1026" y="255" width="1" height="1"/>
<rect x="0" y="248" width="1" height="1"/>
<rect x="1026" y="248" width="1" height="1"/>
<rect x="0" y="240" width="1" height="1"/>
<rect x="1026" y="240" width="1" height="1"/>
<rect x="0" y="233" width="1" height="1"/>
<rect x="1026" y="233" width="1" height="1"/>
<rect x="0" y="225" width="1" height="1"/>
<rect x="1026" y="225" width="1" height="1"/>
<rect x="0" y="217" width="1" height="1"/>
<rect x="1026" y="217" width="1" height="1"/>
<rect x="0" y="210" width="1" height="1"/>
<rect x="1026" y="210" width="1" height="1"/>
<rect x="0" y="202" width="1" height="1"/>
<rect x="1026" y="202" width="1" height="1"/>
<rect x="0" y="195" width="1" height="1"/>
<rect x="1026" y="195" width="1" height="1"/>
<rect x="0" y="187" width="1" height="1"/>
<rect x="1026" y="187" width="1" height="1"/>
<rect x="0" y="179" width="1" height="1"/>
<rect x="1026" y="179" width="1" height="1"/>
<rect x="0" y="171" width="1" height="1"/>
<rect x="1026" y="171" width="1" height="1"/>
<rect x="0" y="164" width="1" height="1"/>
<rect x="1026" y="164" width="1" height="1"/>
<rect x="0" y="156" width="1" height="1"/>
<rect x="1026" y="156" width="1" height="1"/>
<rect x="0" y="148" width="1" height="1"/>
<rect x="1026" y="148" width="1" height="1"/>
<rect x="0" y="140" width="1" height="1"/>
<rect x="1026" y="140" width="1" height="1"/>
<rect x="0" y="133" width="1" height="1"/>
<rect x="1026" y="133" width="1" height="1"/>
<rect x="0" y="125" width="1" height="1"/>
<rect x="1026" y="125" width="1" height="1"/>
<rect x="0" y="118" width="1" height="1"/>
<rect x="1026" y="118" width="1" height="1"/>
<rect x="0" y="110" width="1" height="1"/>
<rect x="1026" y="110" width="1" height="1"/>
<rect x="0" y="102" width="1" height="1"/>
<rect x="1026" y="102" width="1" height="1"/>
<rect x="0" y="94" width="1" height="1"/>
<rect x="1026" y="94" width="1" height="1"/>
<rect x="0" y="87" width="1" height="1"/>
<rect x="1026" y="87" width="1" height="1"/>
<rect x="0" y="79" width="1" height="1"/>
<rect x="1026" y="79" width="1" height="1"/>
<rect x="0" y="71" width="1" height="1"/>
<rect x="1026" y="71" width="1" height="1"/>
<rect x="0" y="63" width="1" height="1"/>
<rect x="1026" y="63" width="1" height="1"/>
<rect x="0" y="56" width="1" height="1"/>
<rect x="1026" y="56" width="1" height="1"/>
<rect x="0" y="48" width="1" height="1"/>
<rect x="1026" y="48" width="1" height="1"/>
<rect x="0" y="40" width="1" height="1"/>
<rect x="1026" y="40" width="1" height="1"/>
<rect x="0" y="33" width="1" height="1"/>
<rect x="1026" y="33" width="1" height="1"/>
<rect x="10" y="545" width="1" height="4"/>
<rect x="26" y="545" width="1" height="4"/>
<rect x="78" y="545" width="1" height="4"/>
<rect x="129" y="545" width="1" height="4"/>
<rect x="181" y="545" width="1" height="4"/>
<rect x="232" y="545" width="1" height="4"/>
<rect x="284" y="545" width="1" height="4"/>
<rect x="336" y="545" width="1" height="4"/>
<rect x="387" y="545" width="1" height="4"/>
<rect x="439" y="545" width="1" height="4"/>
<rect x="491" y="545" width="1" height="4"/>
<rect x="542" y="545" width="1" height="4"/>
<rect x="594" y="545" width="1" height="4"/>
<rect x="646" y="545" width="1" height="4"/>
<rect x="697" y="545" width="1" height="4"/>
<rect x="749" y="545" width="1" height="4"/>
<rect x="801" y="545" width="1" height="4"/>
<rect x="852" y="545" width="1" height="4"/>
<rect x="928" y="545" width="1" height="4"/>
<rect x="979" y="545" width="1" height="4"/>
</g>
<text x="10.25" y="20.8" font-family="Liberation Sans, sans-serif" font-size="16.2" fill="#000" textLength="72.8" lengthAdjust="spacingAndGlyphs" text-anchor="start">Australia</text>
<text x="89.3" y="20.8" font-family="Liberation Sans, sans-serif" font-size="16.2" fill="#000" textLength="67.1" lengthAdjust="spacingAndGlyphs" text-anchor="start">ASX300</text>
<text x="164.5" y="20.8" font-family="Liberation Sans, sans-serif" font-size="16.2" fill="#000" textLength="80.9" lengthAdjust="spacingAndGlyphs" text-anchor="start">Resources</text>
<text x="252.5" y="20.8" font-family="Liberation Sans, sans-serif" font-size="16.2" fill="#000" textLength="45.1" lengthAdjust="spacingAndGlyphs" text-anchor="start">Index</text>
<text x="303.8" y="20.8" font-family="Liberation Sans, sans-serif" font-size="16.2" fill="#000" textLength="49.2" lengthAdjust="spacingAndGlyphs" text-anchor="start">(AS48</text>
<text x="360.4" y="20.8" font-family="Liberation Sans, sans-serif" font-size="16.2" fill="#000" textLength="59.7" lengthAdjust="spacingAndGlyphs" text-anchor="start">INDEX)</text>
<text x="427.6" y="20.8" font-family="Liberation Sans, sans-serif" font-size="16.2" fill="#000" textLength="79.9" lengthAdjust="spacingAndGlyphs" text-anchor="start">3869.013</text>
<text x="515.3" y="20.8" font-family="Liberation Sans, sans-serif" font-size="16.2" fill="#0000ff" textLength="46" lengthAdjust="spacingAndGlyphs" text-anchor="start">23.83</text>
<text x="985.7" y="20.0" font-family="Liberation Sans, sans-serif" font-size="15.7" fill="#000" textLength="87.5" lengthAdjust="spacingAndGlyphs" text-anchor="start">2018-12-07</text>
<text x="10.0" y="44.9" font-family="Liberation Sans, sans-serif" font-size="14" fill="#0000ff" textLength="49" lengthAdjust="spacingAndGlyphs" text-anchor="start">Weekly</text>
<text x="10.7" y="64.5" font-family="Liberation Sans, sans-serif" font-size="14" fill="#a52a2a" textLength="59.5" lengthAdjust="spacingAndGlyphs" text-anchor="start">EMA 200</text>
<text x="1030.8" y="536.8" font-family="Liberation Sans, sans-serif" font-size="12.2" fill="#000" textLength="30.2" lengthAdjust="spacingAndGlyphs" text-anchor="start">2000</text>
<text x="1030.8" y="498.8" font-family="Liberation Sans, sans-serif" font-size="12.2" fill="#000" textLength="30.2" lengthAdjust="spacingAndGlyphs" text-anchor="start">2200</text>
<text x="1030.8" y="459.8" font-family="Liberation Sans, sans-serif" font-size="12.2" fill="#000" textLength="30.2" lengthAdjust="spacingAndGlyphs" text-anchor="start">2400</text>
<text x="1030.8" y="421.8" font-family="Liberation Sans, sans-serif" font-size="12.2" fill="#000" textLength="30.2" lengthAdjust="spacingAndGlyphs" text-anchor="start">2600</text>
<text x="1030.8" y="383.8" font-family="Liberation Sans, sans-serif" font-size="12.2" fill="#000" textLength="30.2" lengthAdjust="spacingAndGlyphs" text-anchor="start">2800</text>
<text x="1030.8" y="344.8" font-family="Liberation Sans, sans-serif" font-size="12.2" fill="#000" textLength="30.2" lengthAdjust="spacingAndGlyphs" text-anchor="start">3000</text>
<text x="1030.8" y="306.8" font-family="Liberation Sans, sans-serif" font-size="12.2" fill="#000" textLength="30.2" lengthAdjust="spacingAndGlyphs" text-anchor="start">3200</text>
<text x="1030.8" y="267.8" font-family="Liberation Sans, sans-serif" font-size="12.2" fill="#000" textLength="30.2" lengthAdjust="spacingAndGlyphs" text-anchor="start">3400</text>
<text x="1030.8" y="229.8" font-family="Liberation Sans, sans-serif" font-size="12.2" fill="#000" textLength="30.2" lengthAdjust="spacingAndGlyphs" text-anchor="start">3600</text>
<text x="1030.8" y="191.8" font-family="Liberation Sans, sans-serif" font-size="12.2" fill="#000" textLength="30.2" lengthAdjust="spacingAndGlyphs" text-anchor="start">3800</text>
<text x="1030.8" y="152.8" font-family="Liberation Sans, sans-serif" font-size="12.2" fill="#000" textLength="30.2" lengthAdjust="spacingAndGlyphs" text-anchor="start">4000</text>
<text x="1030.8" y="114.8" font-family="Liberation Sans, sans-serif" font-size="12.2" fill="#000" textLength="30.2" lengthAdjust="spacingAndGlyphs" text-anchor="start">4200</text>
<text x="1030.8" y="75.8" font-family="Liberation Sans, sans-serif" font-size="12.2" fill="#000" textLength="30.2" lengthAdjust="spacingAndGlyphs" text-anchor="start">4400</text>
<text x="1030.8" y="37.8" font-family="Liberation Sans, sans-serif" font-size="12.2" fill="#000" textLength="30.2" lengthAdjust="spacingAndGlyphs" text-anchor="start">4600</text>
<text x="12.7" y="562.9" font-family="Liberation Sans, sans-serif" font-size="12.2" fill="#000" textLength="30.2" lengthAdjust="spacingAndGlyphs" text-anchor="start">2014</text>
<text x="69.1" y="562.9" font-family="Liberation Sans, sans-serif" font-size="12.2" fill="#000" textLength="21.4" lengthAdjust="spacingAndGlyphs" text-anchor="start">Apr</text>
<text x="123.5" y="562.9" font-family="Liberation Sans, sans-serif" font-size="12.2" fill="#000" textLength="14.6" lengthAdjust="spacingAndGlyphs" text-anchor="start">Jul</text>
<text x="172.5" y="562.9" font-family="Liberation Sans, sans-serif" font-size="12.2" fill="#000" textLength="20.6" lengthAdjust="spacingAndGlyphs" text-anchor="start">Oct</text>
<text x="218.7" y="562.9" font-family="Liberation Sans, sans-serif" font-size="12.2" fill="#000" textLength="30.2" lengthAdjust="spacingAndGlyphs" text-anchor="start">2015</text>
<text x="275.1" y="562.9" font-family="Liberation Sans, sans-serif" font-size="12.2" fill="#000" textLength="21.4" lengthAdjust="spacingAndGlyphs" text-anchor="start">Apr</text>
<text x="330.5" y="562.9" font-family="Liberation Sans, sans-serif" font-size="12.2" fill="#000" textLength="14.6" lengthAdjust="spacingAndGlyphs" text-anchor="start">Jul</text>
<text x="378.5" y="562.9" font-family="Liberation Sans, sans-serif" font-size="12.2" fill="#000" textLength="20.6" lengthAdjust="spacingAndGlyphs" text-anchor="start">Oct</text>
<text x="425.7" y="562.9" font-family="Liberation Sans, sans-serif" font-size="12.2" fill="#000" textLength="30.2" lengthAdjust="spacingAndGlyphs" text-anchor="start">2016</text>
<text x="482.1" y="562.9" font-family="Liberation Sans, sans-serif" font-size="12.2" fill="#000" textLength="21.4" lengthAdjust="spacingAndGlyphs" text-anchor="start">Apr</text>
<text x="536.5" y="562.9" font-family="Liberation Sans, sans-serif" font-size="12.2" fill="#000" textLength="14.6" lengthAdjust="spacingAndGlyphs" text-anchor="start">Jul</text>
<text x="585.5" y="562.9" font-family="Liberation Sans, sans-serif" font-size="12.2" fill="#000" textLength="20.6" lengthAdjust="spacingAndGlyphs" text-anchor="start">Oct</text>
<text x="632.7" y="562.9" font-family="Liberation Sans, sans-serif" font-size="12.2" fill="#000" textLength="30.2" lengthAdjust="spacingAndGlyphs" text-anchor="start">2017</text>
<text x="688.1" y="562.9" font-family="Liberation Sans, sans-serif" font-size="12.2" fill="#000" textLength="21.4" lengthAdjust="spacingAndGlyphs" text-anchor="start">Apr</text>
<text x="743.5" y="562.9" font-family="Liberation Sans, sans-serif" font-size="12.2" fill="#000" textLength="14.6" lengthAdjust="spacingAndGlyphs" text-anchor="start">Jul</text>
<text x="792.5" y="562.9" font-family="Liberation Sans, sans-serif" font-size="12.2" fill="#000" textLength="20.6" lengthAdjust="spacingAndGlyphs" text-anchor="start">Oct</text>
<text x="838.7" y="562.9" font-family="Liberation Sans, sans-serif" font-size="12.2" fill="#000" textLength="30.2" lengthAdjust="spacingAndGlyphs" text-anchor="start">2018</text>
<text x="922.5" y="562.9" font-family="Liberation Sans, sans-serif" font-size="12.2" fill="#000" textLength="14.6" lengthAdjust="spacingAndGlyphs" text-anchor="start">Jul</text>
<text x="970.5" y="562.9" font-family="Liberation Sans, sans-serif" font-size="12.2" fill="#000" textLength="20.6" lengthAdjust="spacingAndGlyphs" text-anchor="start">Oct</text>
<text x="1.3" y="589.6" font-family="Liberation Sans, sans-serif" font-size="15" fill="#0000ff" textLength="210.5" lengthAdjust="spacingAndGlyphs" text-anchor="start">www.fullertreacymoney.com</text>
<text x="625.5" y="589.5" font-family="Liberation Sans, sans-serif" font-size="12.2" fill="#999" textLength="23.4" lengthAdjust="spacingAndGlyphs" text-anchor="start">This</text>
<text x="654.4" y="589.5" font-family="Liberation Sans, sans-serif" font-size="12.2" fill="#999" textLength="46.3" lengthAdjust="spacingAndGlyphs" text-anchor="start">website</text>
<text x="705.1" y="589.5" font-family="Liberation Sans, sans-serif" font-size="12.2" fill="#999" textLength="10.0" lengthAdjust="spacingAndGlyphs" text-anchor="start">is</text>
<text x="721.5" y="589.5" font-family="Liberation Sans, sans-serif" font-size="12.2" fill="#999" textLength="10.5" lengthAdjust="spacingAndGlyphs" text-anchor="start">©</text>
<text x="736.8" y="589.5" font-family="Liberation Sans, sans-serif" font-size="12.2" fill="#999" textLength="66.2" lengthAdjust="spacingAndGlyphs" text-anchor="start">2008-2018</text>
<text x="808.5" y="589.5" font-family="Liberation Sans, sans-serif" font-size="12.2" fill="#999" textLength="33.9" lengthAdjust="spacingAndGlyphs" text-anchor="start">Fuller</text>
<text x="847.7" y="589.5" font-family="Liberation Sans, sans-serif" font-size="12.2" fill="#999" textLength="39.3" lengthAdjust="spacingAndGlyphs" text-anchor="start">Treacy</text>
<text x="891.8" y="589.5" font-family="Liberation Sans, sans-serif" font-size="12.2" fill="#999" textLength="38.9" lengthAdjust="spacingAndGlyphs" text-anchor="start">Money</text>
<text x="936.2" y="589.5" font-family="Liberation Sans, sans-serif" font-size="12.2" fill="#999" textLength="19.0" lengthAdjust="spacingAndGlyphs" text-anchor="start">plc.</text>
<text x="961.3" y="589.5" font-family="Liberation Sans, sans-serif" font-size="12.2" fill="#999" textLength="12.5" lengthAdjust="spacingAndGlyphs" text-anchor="start">All</text>
<text x="979.3" y="589.5" font-family="Liberation Sans, sans-serif" font-size="12.2" fill="#999" textLength="34.5" lengthAdjust="spacingAndGlyphs" text-anchor="start">rights</text>
<text x="1019.7" y="589.5" font-family="Liberation Sans, sans-serif" font-size="12.2" fill="#999" textLength="53.1" lengthAdjust="spacingAndGlyphs" text-anchor="start">reserved</text>
</svg>
</body></html>
